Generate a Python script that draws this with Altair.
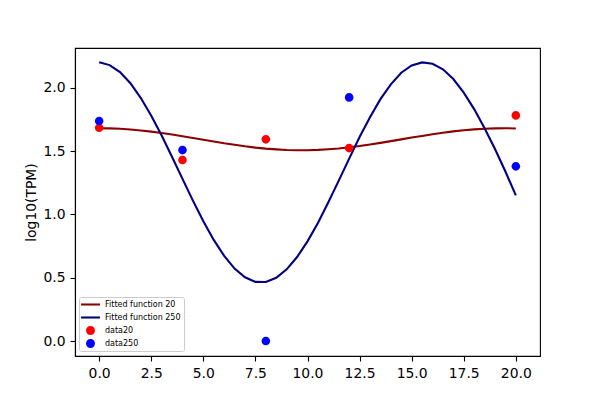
import altair as alt
import pandas as pd

# ---- data ----
x_fit = [0.0, 0.5, 1.0, 1.5, 2.0, 2.5, 3.0, 3.5, 4.0, 4.5, 5.0, 5.5, 6.0, 6.5,
         7.0, 7.5, 8.0, 8.5, 9.0, 9.5, 10.0, 10.5, 11.0, 11.5, 12.0, 12.5,
         13.0, 13.5, 14.0, 14.5, 15.0, 15.5, 16.0, 16.5, 17.0, 17.5, 18.0,
         18.5, 19.0, 19.5, 20.0]
fit20 = [1.680, 1.679, 1.676, 1.670, 1.662, 1.653, 1.642, 1.630, 1.617, 1.603,
         1.589, 1.575, 1.561, 1.549, 1.537, 1.527, 1.519, 1.513, 1.508, 1.506,
         1.506, 1.509, 1.514, 1.520, 1.529, 1.539, 1.551, 1.564, 1.578, 1.592,
         1.606, 1.619, 1.632, 1.644, 1.655, 1.664, 1.671, 1.676, 1.679, 1.680,
         1.678]
fit250 = [2.200, 2.178, 2.123, 2.035, 1.918, 1.779, 1.622, 1.453, 1.280, 1.108,
          0.945, 0.798, 0.672, 0.572, 0.503, 0.467, 0.466, 0.499, 0.566, 0.663,
          0.787, 0.932, 1.095, 1.266, 1.440, 1.610, 1.767, 1.909, 2.026, 2.118,
          2.175, 2.199, 2.189, 2.145, 2.068, 1.961, 1.831, 1.680, 1.516, 1.338,
          1.150]
x_data = [0, 4, 8, 12, 20]
data20 = [1.684, 1.429, 1.592, 1.523, 1.781]
data250 = [1.736, 1.507, 0.0, 1.923, 1.379]

x_ticks = [0, 2.5, 5, 7.5, 10, 12.5, 15, 17.5, 20]
y_ticks = [0, 0.5, 1.0, 1.5, 2.0]

series_names = ["Fitted function 20", "Fitted function 250", "data20", "data250"]
series_colors = ["#8b0000", "#000080", "#ff0000", "#0000ff"]

# ---- tables ----
lines_df = pd.DataFrame({
    "x": x_fit + x_fit,
    "y": fit20 + fit250,
    "series": [series_names[0]] * len(x_fit) + [series_names[1]] * len(x_fit),
    "c": [series_colors[0]] * len(x_fit) + [series_colors[1]] * len(x_fit),
})
points_df = pd.DataFrame({
    "x": x_data + x_data,
    "y": data20 + data250,
    "series": [series_names[2]] * len(x_data) + [series_names[3]] * len(x_data),
})

FONT = "DejaVu Sans"
BAR = "M-2.1,-0.23H2.1V0.23H-2.1Z"
CIRC = "M-1,0A1,1,0,1,1,1,0A1,1,0,1,1,-1,0Z"

x_enc = alt.X("x:Q",
              scale=alt.Scale(domain=[-1.16, 21.16], nice=False, zero=False),
              axis=alt.Axis(values=x_ticks, format=".1f", title=None))
y_enc = alt.Y("y:Q",
              scale=alt.Scale(domain=[-0.118, 2.313], nice=False, zero=False),
              axis=alt.Axis(values=y_ticks, format=".1f", title="log10(TPM)"))

legend_kw = dict(
    orient="none", legendX=4, legendY=249, title=None,
    labelFont=FONT, labelFontSize=8, labelColor="black", labelLimit=300,
    symbolSize=81, symbolStrokeWidth=0, symbolOffset=4, labelOffset=10,
    rowPadding=4, padding=3, strokeColor="#cccccc",
    fillColor="rgba(255,255,255,0.8)", cornerRadius=2,
)

lines = alt.Chart(lines_df).mark_line(strokeWidth=2.1).encode(
    x=x_enc, y=y_enc,
    color=alt.Color("c:N", scale=None),
    detail="series:N",
)

points = alt.Chart(points_df).mark_point(filled=True, opacity=1, size=74).encode(
    x=x_enc, y=y_enc,
    color=alt.Color("series:N",
                    scale=alt.Scale(domain=series_names, range=series_colors),
                    legend=alt.Legend(**legend_kw)),
    shape=alt.Shape("series:N",
                    scale=alt.Scale(domain=series_names, range=[BAR, BAR, CIRC, CIRC]),
                    legend=alt.Legend(**legend_kw)),
)

chart = alt.layer(lines, points).properties(
    width=465, height=308,
    background="white",
    autosize=alt.AutoSizeParams(type="none"),
    padding={"left": 67, "top": 40, "right": 40, "bottom": 30},
).configure_view(
    stroke="black", strokeWidth=1.1,
).configure_axis(
    grid=False, domainColor="black", domainWidth=1.1,
    tickColor="black", tickWidth=1.1, tickSize=5,
    labelColor="black", labelFont=FONT, labelFontSize=13.9, labelPadding=5,
    labelFlush=False, titleFont=FONT, titleFontSize=13.9,
    titleFontWeight="normal", titleColor="black", titlePadding=4,
)

chart.save("out.html", embed_options={"renderer": "svg", "actions": False})
